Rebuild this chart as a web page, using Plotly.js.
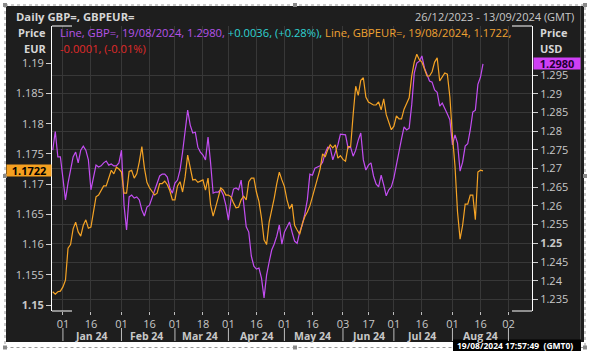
<!DOCTYPE html>
<html>
<head>
<meta charset="utf-8">
<script src="https://cdn.plot.ly/plotly-3.0.1.min.js"></script>
<style>
  html, body { margin: 0; padding: 0; background: #ffffff; }
  #chart { width: 589px; height: 353px; }
</style>
</head>
<body>
<div id="chart"></div>
<script>
// ---------------- DATA ----------------
const startDate = '2023-12-26';   // first trading day shown (weekdays only)

// GBP= (GBP/USD), right axis
const gbpUsd = [
  1.2749, 1.2799, 1.2731, 1.2731, 1.2674, 1.2616, 1.2661, 1.2701, 1.2731, 1.2744,
  1.2715, 1.2749, 1.2760, 1.2749, 1.2723, 1.2643, 1.2680, 1.2709, 1.2704, 1.2707,
  1.2715, 1.2720, 1.2709, 1.2712, 1.2707, 1.2707, 1.2715, 1.2749, 1.2602, 1.2536,
  1.2624, 1.2629, 1.2621, 1.2624, 1.2616, 1.2589, 1.2573, 1.2597, 1.2602, 1.2621,
  1.2643, 1.2664, 1.2680, 1.2685, 1.2685, 1.2677, 1.2648, 1.2634, 1.2661, 1.2669,
  1.2696, 1.2744, 1.2808, 1.2856, 1.2816, 1.2795, 1.2797, 1.2757, 1.2744, 1.2736,
  1.2723, 1.2784, 1.2715, 1.2634, 1.2637, 1.2637, 1.2643, 1.2629, 1.2602, 1.2562,
  1.2616, 1.2645, 1.2648, 1.2643, 1.2669, 1.2608, 1.2544, 1.2530, 1.2466, 1.2439,
  1.2431, 1.2434, 1.2407, 1.2354, 1.2415, 1.2450, 1.2482, 1.2498, 1.2519, 1.2549,
  1.2498, 1.2530, 1.2544, 1.2557, 1.2530, 1.2506, 1.2500, 1.2530, 1.2549, 1.2578,
  1.2616, 1.2685, 1.2682, 1.2701, 1.2704, 1.2707, 1.2717, 1.2741, 1.2757, 1.2755,
  1.2723, 1.2741, 1.2763, 1.2792, 1.2790, 1.2790, 1.2755, 1.2757, 1.2733, 1.2749,
  1.2776, 1.2795, 1.2723, 1.2696, 1.2709, 1.2715, 1.2680, 1.2659, 1.2651, 1.2682,
  1.2656, 1.2627, 1.2643, 1.2651, 1.2675, 1.2712, 1.2749, 1.2779, 1.2811, 1.2803,
  1.2808, 1.2870, 1.2955, 1.2982, 1.2987, 1.3001, 1.2969, 1.2953, 1.2934, 1.2931,
  1.2910, 1.2904, 1.2867, 1.2875, 1.2862, 1.2846, 1.2830, 1.2763, 1.2790, 1.2768,
  1.2693, 1.2717, 1.2760, 1.2766, 1.2803, 1.2851, 1.2856, 1.2925, 1.2944, 1.2980
];

// GBPEUR= (GBP/EUR), left axis
const gbpEur = [
  1.1522, 1.1518, 1.1522, 1.1523, 1.1530, 1.1541, 1.1594, 1.1600, 1.1626, 1.1637,
  1.1621, 1.1614, 1.1632, 1.1641, 1.1627, 1.1629, 1.1654, 1.1679, 1.1682, 1.1689,
  1.1697, 1.1697, 1.1710, 1.1723, 1.1717, 1.1728, 1.1725, 1.1720, 1.1685, 1.1685,
  1.1721, 1.1723, 1.1710, 1.1717, 1.1737, 1.1762, 1.1727, 1.1703, 1.1694, 1.1687,
  1.1682, 1.1685, 1.1701, 1.1701, 1.1705, 1.1699, 1.1689, 1.1674, 1.1674, 1.1697,
  1.1704, 1.1687, 1.1712, 1.1748, 1.1727, 1.1707, 1.1708, 1.1703, 1.1705, 1.1707,
  1.1690, 1.1710, 1.1666, 1.1647, 1.1662, 1.1677, 1.1694, 1.1690, 1.1682, 1.1682,
  1.1679, 1.1669, 1.1661, 1.1662, 1.1674, 1.1680, 1.1674, 1.1704, 1.1710, 1.1710,
  1.1687, 1.1671, 1.1644, 1.1608, 1.1600, 1.1637, 1.1655, 1.1677, 1.1701, 1.1720,
  1.1707, 1.1696, 1.1674, 1.1659, 1.1667, 1.1632, 1.1624, 1.1617, 1.1634, 1.1646,
  1.1654, 1.1664, 1.1679, 1.1694, 1.1707, 1.1725, 1.1750, 1.1745, 1.1757, 1.1765,
  1.1760, 1.1765, 1.1743, 1.1747, 1.1741, 1.1738, 1.1762, 1.1762, 1.1815, 1.1862,
  1.1847, 1.1872, 1.1876, 1.1844, 1.1836, 1.1833, 1.1831, 1.1831, 1.1836, 1.1823,
  1.1841, 1.1815, 1.1804, 1.1790, 1.1796, 1.1813, 1.1808, 1.1808, 1.1824, 1.1833,
  1.1843, 1.1879, 1.1902, 1.1915, 1.1906, 1.1902, 1.1892, 1.1879, 1.1879, 1.1886,
  1.1902, 1.1909, 1.1871, 1.1877, 1.1884, 1.1882, 1.1844, 1.1780, 1.1730, 1.1654,
  1.1609, 1.1632, 1.1667, 1.1667, 1.1682, 1.1682, 1.1641, 1.1720, 1.1723, 1.1722
];

// X tick labels (day of month) and month labels
const xTickDates = ['2024-01-01','2024-01-16','2024-02-01','2024-02-16','2024-03-01','2024-03-18',
  '2024-04-01','2024-04-16','2024-05-01','2024-05-16','2024-06-03','2024-06-17','2024-07-01',
  '2024-07-16','2024-08-01','2024-08-16','2024-09-02'];
const xTickText = ['01','16','01','16','01','18','01','16','01','16','03','17','01','16','01','16','02'];
const monthStarts = ['2024-01-01','2024-02-01','2024-03-01','2024-04-01','2024-05-01','2024-06-03',
  '2024-07-01','2024-08-01','2024-09-02'];
const monthLabels = ['Jan 24','Feb 24','Mar 24','Apr 24','May 24','Jun 24','Jul 24','Aug 24'];
const monthLabelDates = ['2024-01-16','2024-02-15','2024-03-15','2024-04-16','2024-05-16',
  '2024-06-17','2024-07-16','2024-08-16'];

// Y tick values
const eurTicks = [1.15, 1.155, 1.16, 1.165, 1.17, 1.175, 1.18, 1.185, 1.19];
const eurTickText = ['<b>1.15</b>','1.155','1.16','1.165','1.17','1.175','1.18','1.185','1.19'];
const usdTicks = [1.235, 1.24, 1.245, 1.25, 1.255, 1.26, 1.265, 1.27, 1.275, 1.28, 1.285, 1.29, 1.295];
const usdTickText = ['1.235','1.24','1.245','<b>1.25</b>','1.255','1.26','1.265','1.27','1.275','1.28','1.285','1.29','1.295'];

// ---------------- DATES (weekdays) ----------------
function weekdayDates(start, n) {
  const out = [];
  const d = new Date(start + 'T00:00:00Z');
  while (out.length < n) {
    const wd = d.getUTCDay();
    if (wd !== 0 && wd !== 6) out.push(d.toISOString().slice(0, 10));
    d.setUTCDate(d.getUTCDate() + 1);
  }
  return out;
}
const dates = weekdayDates(startDate, gbpUsd.length);

// ---------------- LAYOUT HELPERS ----------------
const W = 589, H = 353, ML = 52, MR = 57, MT = 26, MB = 42;
const PW = W - ML - MR, PH = H - MT - MB;
const px = x => (x - ML) / PW;
const py = y => (H - MB - y) / PH;

const purple = '#c34ef2', orange = '#f5a325';
const txt = '#c8c8c8';
const FONT = 'Open Sans, Noto Sans, Arial, sans-serif';

const shapes = [
  // dark panel
  {type:'rect', xref:'paper', yref:'paper', x0:px(6), x1:px(584), y0:py(6), y1:py(342),
   fillcolor:'#1e1e1e', line:{width:0}, layer:'below'},
  {type:'line', xref:'paper', yref:'paper', x0:px(580.5), x1:px(580.5), y0:py(6), y1:py(342),
   line:{color:'#4a4a4a', width:1}, layer:'below'},
  // dotted selection frame
  {type:'rect', xref:'paper', yref:'paper', x0:px(5), x1:px(585), y0:py(5), y1:py(347.5),
   line:{color:'#9a9a9a', width:1, dash:'dot'}, fillcolor:'rgba(0,0,0,0)', layer:'above'},
  // corner brackets of plot frame
  {type:'line', xref:'paper', yref:'paper', x0:0, x1:px(72), y0:1, y1:1, line:{color:'#ffffff', width:1}},
  {type:'line', xref:'paper', yref:'paper', x0:px(512), x1:1, y0:1, y1:1, line:{color:'#ffffff', width:1}},
  {type:'line', xref:'paper', yref:'paper', x0:0, x1:px(72), y0:0, y1:0, line:{color:'#ffffff', width:1}},
  {type:'line', xref:'paper', yref:'paper', x0:px(512), x1:1, y0:0, y1:0, line:{color:'#ffffff', width:1}},
  // timestamp box
  {type:'rect', xref:'paper', yref:'paper', x0:px(453), x1:px(581), y0:py(339.5), y1:py(351),
   fillcolor:'#000000', line:{width:0}, layer:'above'}
];
// selection handles
[[5,5],[295,5],[585,5],[5,176],[585,176],[5,347.5],[295,347.5],[585,347.5]].forEach(p => {
  shapes.push({type:'rect', xref:'paper', yref:'paper', x0:px(p[0]-2), x1:px(p[0]+2),
    y0:py(p[1]-2), y1:py(p[1]+2), fillcolor:'#8a8a8a', line:{width:0}, layer:'above'});
});
// month separators
monthStarts.forEach(d => {
  shapes.push({type:'line', xref:'x', yref:'paper', x0:d, x1:d, y0:py(328), y1:py(341),
    line:{color:'#bdbdbd', width:1}});
});

const lastUsd = gbpUsd[gbpUsd.length - 1];
const lastEur = gbpEur[gbpEur.length - 1];

const annotations = [
  {xref:'paper', yref:'paper', x:px(14), y:py(17), xanchor:'left', yanchor:'middle', showarrow:false,
   text:'<b>Daily GBP=, GBPEUR=</b>', font:{size:11.3, color:'#d6d6d6', family:FONT}},
  {xref:'paper', yref:'paper', x:px(576), y:py(17), xanchor:'right', yanchor:'middle', showarrow:false,
   text:'26/12/2023 - 13/09/2024 (GMT)', font:{size:11, color:txt, family:FONT}},
  {xref:'paper', yref:'paper', x:px(48), y:py(33), xanchor:'right', yanchor:'middle', showarrow:false,
   text:'<b>Price</b>', font:{size:11, color:'#d6d6d6', family:FONT}},
  {xref:'paper', yref:'paper', x:px(48), y:py(48), xanchor:'right', yanchor:'middle', showarrow:false,
   text:'<b>EUR</b>', font:{size:11, color:'#d6d6d6', family:FONT}},
  {xref:'paper', yref:'paper', x:px(538), y:py(33), xanchor:'left', yanchor:'middle', showarrow:false,
   text:'<b>Price</b>', font:{size:11, color:'#d6d6d6', family:FONT}},
  {xref:'paper', yref:'paper', x:px(538), y:py(48), xanchor:'left', yanchor:'middle', showarrow:false,
   text:'<b>USD</b>', font:{size:11, color:'#d6d6d6', family:FONT}},
  {xref:'paper', yref:'paper', x:px(58), y:py(33), xanchor:'left', yanchor:'middle', showarrow:false,
   text:'<span style="color:#b553e8">Line, GBP=, 19/08/2024, ' + lastUsd.toFixed(4) + ', </span>' +
        '<span style="color:#2fd3d3">+0.0036, (+0.28%), </span>' +
        '<span style="color:#f0a232">Line, GBPEUR=, 19/08/2024, ' + lastEur.toFixed(4) + ',</span>',
   font:{size:11.2, family:FONT}},
  {xref:'paper', yref:'paper', x:px(58), y:py(48), xanchor:'left', yanchor:'middle', showarrow:false,
   text:'-0.0001, (-0.01%)', font:{size:11.2, color:'#e02a2a', family:FONT}},
  // last value boxes
  {xref:'paper', yref:'y2', x:px(52), y:lastEur, xanchor:'right', yanchor:'middle', showarrow:false,
   text:'<b>' + lastEur.toFixed(4) + '</b>', bgcolor:'#f5a020', width:44, height:11, borderpad:0,
   font:{size:11, color:'#000000', family:FONT}},
  {xref:'paper', yref:'y', x:px(533), y:lastUsd, xanchor:'left', yanchor:'middle', showarrow:false,
   text:'<b>' + lastUsd.toFixed(4) + '</b>', bgcolor:'#cf3ff5', width:46, height:11, borderpad:0,
   font:{size:11, color:'#220033', family:FONT}},
  // timestamp
  {xref:'paper', yref:'paper', x:px(455), y:py(345.5), xanchor:'left', yanchor:'middle', showarrow:false,
   text:'<b>19/08/2024 17:57:49  (GMT0)</b>', font:{size:8.5, color:'#ffffff', family:FONT}}
];
monthLabels.forEach((m, i) => {
  annotations.push({xref:'x', yref:'paper', x:monthLabelDates[i], y:py(336), xanchor:'center',
    yanchor:'middle', showarrow:false, text:'<b>' + m + '</b>',
    font:{size:10.5, color:txt, family:FONT}});
});

const traces = [
  {x:dates, y:gbpUsd, type:'scatter', mode:'lines', name:'GBP=', yaxis:'y',
   line:{color:purple, width:1.2}},
  {x:dates, y:gbpEur, type:'scatter', mode:'lines', name:'GBPEUR=', yaxis:'y2',
   line:{color:orange, width:1.2}}
];

const layout = {
  width:W, height:H,
  margin:{l:ML, r:MR, t:MT, b:MB, pad:0},
  paper_bgcolor:'#ffffff', plot_bgcolor:'rgba(0,0,0,0)',
  font:{family:FONT, color:txt, size:11},
  showlegend:false, hovermode:false,
  xaxis:{
    type:'date', range:['2023-12-25 17:00', '2024-09-13 06:00'],
    rangebreaks:[{bounds:['sat','mon']}],
    tickmode:'array', tickvals:xTickDates, ticktext:xTickText,
    ticks:'outside', ticklen:3, tickcolor:'#bdbdbd', tickfont:{size:11, color:txt},
    showgrid:true, gridcolor:'#383838', gridwidth:1, showline:false, zeroline:false
  },
  yaxis:{
    side:'right', range:[1.2319, 1.3081],
    tickmode:'array', tickvals:usdTicks, ticktext:usdTickText,
    ticks:'outside', ticklen:5, tickcolor:'#cfcfcf', tickfont:{size:11, color:txt},
    showgrid:true, gridcolor:'#383838', gridwidth:1,
    showline:true, linecolor:'#ffffff', linewidth:1, zeroline:false
  },
  yaxis2:{
    overlaying:'y', side:'left', range:[1.14901, 1.19617],
    tickmode:'array', tickvals:eurTicks, ticktext:eurTickText,
    ticks:'outside', ticklen:5, tickcolor:'#cfcfcf', tickfont:{size:11, color:txt},
    showgrid:false, showline:true, linecolor:'#ffffff', linewidth:1, zeroline:false
  },
  shapes:shapes,
  annotations:annotations
};

Plotly.newPlot('chart', traces, layout, {displayModeBar:false, staticPlot:true});
</script>
</body>
</html>
